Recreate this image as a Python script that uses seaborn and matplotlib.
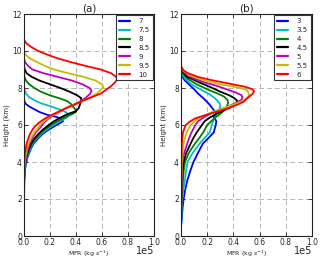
import matplotlib
matplotlib.use("Agg")
import matplotlib.pyplot as plt
import seaborn as sns
import pandas as pd

# ---------------- Panel (a) data (MFR in units of 1e5 kg/s, height in km) -------------
labels_a = ["7", "7.5", "8", "8.5", "9", "9.5", "10"]

h_a7 = [7.45, 7.3, 7.15, 7.0, 6.85, 6.7, 6.55, 6.45, 6.35, 6.2, 6.0, 5.75, 5.5, 5.25, 5.0, 4.75, 4.5, 4.2, 3.9, 3.6, 3.3, 3.0, 2.0, 0.5]
m_a7 = [0, 0.003, 0.012, 0.04, 0.08, 0.12, 0.18, 0.24, 0.29, 0.30, 0.25, 0.19, 0.14, 0.105, 0.075, 0.055, 0.04, 0.025, 0.015, 0.008, 0.004, 0.002, 0.0005, 0]

h_a75 = [8.1, 7.9, 7.7, 7.5, 7.3, 7.15, 7.0, 6.85, 6.7, 6.55, 6.4, 6.2, 6.0, 5.75, 5.5, 5.25, 5.0, 4.75, 4.5, 4.2, 3.9, 3.6, 3.3, 3.0, 2.0, 0.5]
m_a75 = [0, 0.004, 0.015, 0.04, 0.09, 0.14, 0.21, 0.27, 0.32, 0.345, 0.33, 0.27, 0.225, 0.175, 0.13, 0.095, 0.068, 0.05, 0.035, 0.022, 0.013, 0.007, 0.003, 0.0015, 0.0004, 0]

h_a8 = [8.8, 8.6, 8.4, 8.2, 8.0, 7.8, 7.6, 7.45, 7.3, 7.15, 7.0, 6.85, 6.7, 6.55, 6.4, 6.2, 6.0, 5.75, 5.5, 5.25, 5.0, 4.75, 4.5, 4.2, 3.9, 3.6, 3.3, 3.0, 2.0, 0.5]
m_a8 = [0, 0.004, 0.015, 0.04, 0.08, 0.13, 0.2, 0.27, 0.33, 0.36, 0.375, 0.395, 0.40, 0.36, 0.31, 0.255, 0.21, 0.16, 0.12, 0.088, 0.062, 0.045, 0.031, 0.019, 0.011, 0.006, 0.003, 0.0012, 0.0003, 0]

h_a85 = [9.2, 9.0, 8.8, 8.6, 8.4, 8.2, 8.0, 7.8, 7.6, 7.45, 7.3, 7.1, 6.9, 6.75, 6.6, 6.4, 6.2, 6.0, 5.75, 5.5, 5.25, 5.0, 4.75, 4.5, 4.2, 3.9, 3.6, 3.3, 3.0, 2.0, 0.5]
m_a85 = [0, 0.006, 0.02, 0.06, 0.12, 0.2, 0.28, 0.35, 0.41, 0.44, 0.44, 0.43, 0.42, 0.40, 0.34, 0.28, 0.23, 0.19, 0.145, 0.108, 0.078, 0.055, 0.04, 0.027, 0.016, 0.009, 0.005, 0.0025, 0.001, 0.0002, 0]

h_a9 = [9.6, 9.4, 9.2, 9.0, 8.8, 8.6, 8.4, 8.2, 8.0, 7.85, 7.7, 7.5, 7.3, 7.1, 6.9, 6.7, 6.5, 6.3, 6.1, 5.9, 5.6, 5.3, 5.0, 4.7, 4.4, 4.1, 3.8, 3.5, 3.2, 2.5, 0.5]
m_a9 = [0, 0.008, 0.03, 0.065, 0.15, 0.26, 0.37, 0.45, 0.505, 0.52, 0.51, 0.48, 0.44, 0.38, 0.32, 0.27, 0.22, 0.18, 0.15, 0.13, 0.09, 0.065, 0.045, 0.03, 0.02, 0.012, 0.007, 0.003, 0.0015, 0.0003, 0]

h_a95 = [9.95, 9.8, 9.6, 9.4, 9.2, 9.0, 8.8, 8.6, 8.4, 8.2, 8.05, 7.9, 7.7, 7.5, 7.3, 7.1, 6.9, 6.7, 6.5, 6.3, 6.1, 5.9, 5.6, 5.3, 5.0, 4.7, 4.4, 4.1, 3.8, 3.5, 3.2, 2.5, 0.5]
m_a95 = [0, 0.012, 0.045, 0.1, 0.16, 0.23, 0.34, 0.46, 0.55, 0.6, 0.61, 0.59, 0.56, 0.51, 0.45, 0.385, 0.32, 0.265, 0.21, 0.17, 0.135, 0.115, 0.08, 0.055, 0.035, 0.022, 0.014, 0.008, 0.004, 0.002, 0.001, 0.0002, 0]

h_a10 = [10.6, 10.4, 10.2, 10.0, 9.8, 9.6, 9.4, 9.2, 9.0, 8.8, 8.6, 8.45, 8.3, 8.1, 7.9, 7.7, 7.5, 7.3, 7.1, 6.9, 6.7, 6.5, 6.3, 6.1, 5.8, 5.5, 5.0, 4.5, 4.0, 3.5, 3.0, 0.5]
m_a10 = [0, 0.02, 0.06, 0.11, 0.18, 0.26, 0.36, 0.47, 0.59, 0.67, 0.71, 0.715, 0.70, 0.67, 0.63, 0.59, 0.52, 0.45, 0.39, 0.32, 0.26, 0.2, 0.15, 0.11, 0.07, 0.045, 0.02, 0.008, 0.003, 0.001, 0.0003, 0]

# ---------------- Panel (b) data ----------------
labels_b = ["3", "3.5", "4", "4.5", "5", "5.5", "6"]

h_b3 = [8.7, 8.4, 8.07, 7.9, 7.7, 7.45, 7.17, 6.9, 6.63, 6.45, 6.2, 6.0, 5.6, 5.3, 5.0, 4.5, 4.0, 3.5, 3.0, 2.5, 2.0, 1.5, 1.0, 0.5]
m_b3 = [0, 0.03, 0.08, 0.105, 0.13, 0.17, 0.21, 0.24, 0.27, 0.25, 0.27, 0.265, 0.25, 0.21, 0.168, 0.13, 0.095, 0.07, 0.048, 0.032, 0.02, 0.012, 0.007, 0]

h_b35 = [8.85, 8.8, 8.5, 8.2, 7.9, 7.65, 7.44, 7.17, 7.0, 6.8, 6.6, 6.3, 6.0, 5.6, 5.3, 5.0, 4.5, 4.0, 3.5, 3.0, 2.5, 2.0, 1.0, 0.5]
m_b35 = [0, 0.003, 0.03, 0.08, 0.155, 0.22, 0.26, 0.295, 0.3, 0.29, 0.27, 0.25, 0.235, 0.22, 0.18, 0.143, 0.09, 0.05, 0.038, 0.03, 0.018, 0.01, 0.004, 0]

h_b4 = [9.0, 8.8, 8.5, 8.2, 7.9, 7.7, 7.53, 7.35, 7.2, 7.0, 6.8, 6.6, 6.4, 6.2, 6.0, 5.6, 5.3, 5.0, 4.5, 4.0, 3.5, 3.0, 2.5, 2.0, 1.0, 0.5]
m_b4 = [0, 0.01, 0.05, 0.12, 0.21, 0.28, 0.33, 0.355, 0.36, 0.35, 0.33, 0.3, 0.26, 0.23, 0.2, 0.17, 0.14, 0.107, 0.06, 0.03, 0.02, 0.015, 0.008, 0.004, 0.002, 0]

h_b45 = [9.1, 8.9, 8.6, 8.3, 8.0, 7.8, 7.6, 7.44, 7.3, 7.15, 7.0, 6.8, 6.6, 6.4, 6.2, 6.0, 5.6, 5.3, 5.0, 4.5, 4.0, 3.5, 3.0, 2.0, 1.0, 0.5]
m_b45 = [0, 0.01, 0.05, 0.14, 0.24, 0.3, 0.37, 0.41, 0.43, 0.42, 0.39, 0.33, 0.27, 0.22, 0.18, 0.16, 0.12, 0.095, 0.074, 0.04, 0.02, 0.012, 0.008, 0.003, 0.001, 0]

h_b5 = [9.15, 8.9, 8.6, 8.3, 8.1, 7.9, 7.75, 7.62, 7.5, 7.35, 7.2, 7.0, 6.8, 6.6, 6.4, 6.2, 6.0, 5.6, 5.3, 5.0, 4.5, 4.0, 3.5, 3.0, 2.0, 0.5]
m_b5 = [0, 0.015, 0.07, 0.18, 0.28, 0.36, 0.42, 0.46, 0.47, 0.46, 0.42, 0.36, 0.29, 0.22, 0.17, 0.13, 0.11, 0.08, 0.062, 0.048, 0.025, 0.01, 0.006, 0.004, 0.002, 0]

h_b55 = [9.2, 9.0, 8.7, 8.4, 8.2, 8.07, 7.9, 7.75, 7.6, 7.45, 7.3, 7.1, 6.9, 6.7, 6.5, 6.3, 6.0, 5.6, 5.3, 5.0, 4.5, 4.0, 3.0, 2.0, 0.5]
m_b55 = [0, 0.01, 0.06, 0.18, 0.3, 0.41, 0.5, 0.515, 0.52, 0.5, 0.47, 0.4, 0.32, 0.24, 0.17, 0.12, 0.074, 0.043, 0.03, 0.02, 0.012, 0.007, 0.003, 0.0015, 0]

h_b6 = [9.25, 9.1, 8.95, 8.8, 8.6, 8.43, 8.25, 8.07, 7.95, 7.85, 7.7, 7.53, 7.4, 7.26, 7.1, 6.9, 6.63, 6.36, 6.2, 6.0, 5.6, 5.0, 4.5, 4.0, 3.0, 2.0, 0.5]
m_b6 = [0, 0.005, 0.02, 0.053, 0.13, 0.23, 0.36, 0.486, 0.54, 0.557, 0.55, 0.52, 0.5, 0.48, 0.43, 0.36, 0.23, 0.11, 0.07, 0.036, 0.015, 0.006, 0.004, 0.003, 0.001, 0.0005, 0]

heights_a = [h_a7, h_a75, h_a8, h_a85, h_a9, h_a95, h_a10]
mfr_a = [m_a7, m_a75, m_a8, m_a85, m_a9, m_a95, m_a10]
heights_b = [h_b3, h_b35, h_b4, h_b45, h_b5, h_b55, h_b6]
mfr_b = [m_b3, m_b35, m_b4, m_b45, m_b5, m_b55, m_b6]

colors = [(0, 0, 1), (0, 0.75, 0.75), (0, 0.5, 0), (0, 0, 0),
          (0.75, 0, 0.75), (0.75, 0.75, 0), (1, 0, 0)]

x_ticks = [0.0, 0.2, 0.4, 0.6, 0.8, 1.0]
y_ticks = [0, 2, 4, 6, 8, 10, 12]
titles = ["(a)", "(b)"]


def make_df(labels, heights, mfrs):
    rows = []
    for lab, hs, ms in zip(labels, heights, mfrs):
        for i, (h, m) in enumerate(zip(hs, ms)):
            rows.append({"label": lab, "order": i, "Height": h, "MFR": m * 1e5})
    return pd.DataFrame(rows)


sns.set_style("white")
plt.rcParams["font.family"] = ["DejaVu Sans"]
plt.rcParams.update({
    "xtick.direction": "in", "ytick.direction": "in",
    "xtick.top": True, "ytick.right": True,
    "xtick.bottom": True, "ytick.left": True,
    "xtick.major.size": 3, "ytick.major.size": 3,
    "xtick.major.width": 0.6, "ytick.major.width": 0.6,
    "axes.edgecolor": "#222222", "axes.linewidth": 0.8,
})

fig = plt.figure(figsize=(3.2, 2.59), dpi=100)
axes = [fig.add_axes([24 / 320, 23 / 259, 130 / 320, 222 / 259]),
        fig.add_axes([181 / 320, 23 / 259, 131 / 320, 222 / 259])]

for ax, labels, heights, mfrs, title in zip(
        axes, [labels_a, labels_b], [heights_a, heights_b], [mfr_a, mfr_b], titles):
    df = make_df(labels, heights, mfrs)
    sns.lineplot(data=df, x="MFR", y="Height", hue="label", hue_order=labels,
                 palette=colors, sort=False, estimator=None, units="label",
                 lw=1.3, legend=False, ax=ax)
    for line, lab in zip(ax.get_lines(), labels):
        line.set_label(lab)
    ax.set_xlim(0, 1e5)
    ax.set_ylim(0, 12)
    ax.set_xticks([v * 1e5 for v in x_ticks])
    ax.set_yticks(y_ticks)
    ax.ticklabel_format(axis="x", style="sci", scilimits=(0, 0))
    ax.xaxis.get_offset_text().set_visible(False)
    ax.text(1.0, -0.066, "1e5", transform=ax.transAxes, ha="right", va="center",
            fontsize=7)
    ax.tick_params(labelsize=5.5, pad=1.5)
    ax.grid(True, color="#b5b5b5", linestyle=(0, (5, 3)), linewidth=0.7)
    ax.set_axisbelow(True)
    ax.set_title(title, fontsize=7.5, pad=2)
    ax.set_ylabel("Height (km)", fontsize=5, labelpad=2)
    ax.set_xlabel(r"MFR (kg $s^{-1}$)", fontsize=4.5, labelpad=1)
    leg = ax.legend(loc="upper right", fontsize=5, frameon=True, fancybox=False,
                    framealpha=1, edgecolor="#333333", handlelength=1.6,
                    labelspacing=0.42, borderaxespad=0.2, handletextpad=1.2,
                    borderpad=0.4)
    leg.get_frame().set_linewidth(0.8)
    for lh in leg.get_lines():
        lh.set_linewidth(1.6)

fig.savefig("out.png", dpi=100)
